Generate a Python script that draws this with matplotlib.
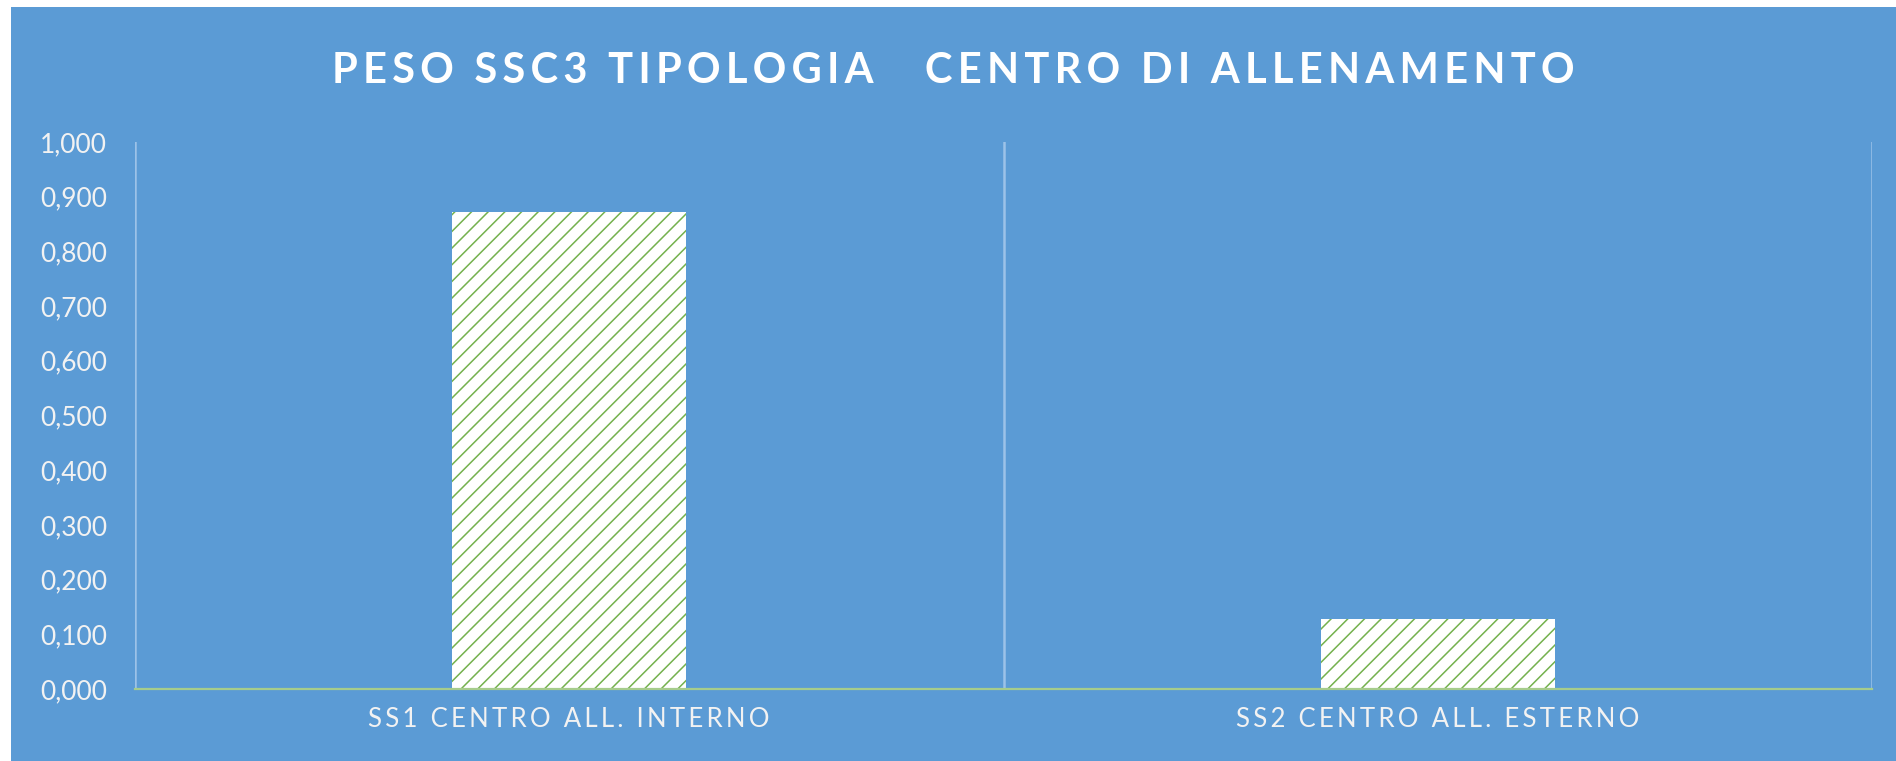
import matplotlib.pyplot as plt
from matplotlib.patches import Rectangle
from matplotlib.ticker import FuncFormatter
import numpy as np

# dati
categorie = ["SS1 CENTRO ALL. INTERNO", "SS2 CENTRO ALL. ESTERNO"]
pesi = [0.872, 0.128]
titolo = "PESO SSC3 TIPOLOGIA   CENTRO DI ALLENAMENTO"
y_ticks = [0.0, 0.1, 0.2, 0.3, 0.4, 0.5, 0.6, 0.7, 0.8, 0.9, 1.0]

blu = "#5B9BD5"
verde = "#74B14E"
bianco = "#F2F2F2"


def spaziato(s, sep="\u2009"):
    # Excel usa la spaziatura tra le lettere, qui si simula con spazi sottili
    return sep.join(s)


plt.rcParams["font.family"] = ["Lato", "DejaVu Sans"]
plt.rcParams["hatch.color"] = verde
plt.rcParams["hatch.linewidth"] = 1.1

fig = plt.figure(figsize=(18.96, 7.61), dpi=100)
fig.patch.set_facecolor("white")
# sfondo blu del grafico (bordo bianco sopra e a sinistra)
fig.add_artist(Rectangle((11 / 1896, 0), 1 - 11 / 1896, 1 - 7 / 761,
                         transform=fig.transFigure, facecolor=blu,
                         edgecolor="none", zorder=-10))

ax = fig.add_axes([135 / 1896, 1 - 689 / 761, (1872 - 135) / 1896, (689 - 142) / 761])
ax.set_facecolor("none")

x = np.arange(len(categorie))
ax.bar(x, pesi, width=0.27, facecolor="white", edgecolor=verde,
       linewidth=0, hatch="//", zorder=3)

ax.set_xlim(-0.5, len(categorie) - 0.5)
ax.set_ylim(0, 1.0)
ax.set_yticks(y_ticks)
ax.yaxis.set_major_formatter(FuncFormatter(lambda v, p: f"{v:.3f}".replace(".", ",")))
ax.set_xticks(x)
ax.set_xticklabels([spaziato(c) for c in categorie])

# linee di separazione tra categorie
for xs in np.arange(-0.5, len(categorie), 1.0):
    ax.axvline(xs, color="#9CC2E8", linewidth=1.8, zorder=1)

for s in ["top", "right", "left"]:
    ax.spines[s].set_visible(False)
ax.spines["bottom"].set_color("#A6CC8C")
ax.spines["bottom"].set_linewidth(1.6)
ax.spines["bottom"].set_zorder(4)

ax.tick_params(axis="both", length=0, colors=bianco)
ax.tick_params(axis="y", labelsize=19, pad=20)
ax.tick_params(axis="x", labelsize=18.5, pad=13)

fig.text(0.503, 1 - 71 / 761, spaziato(titolo), ha="center", va="center",
         fontsize=30, fontweight="bold", color="white")

fig.savefig("out.png", dpi=100)
